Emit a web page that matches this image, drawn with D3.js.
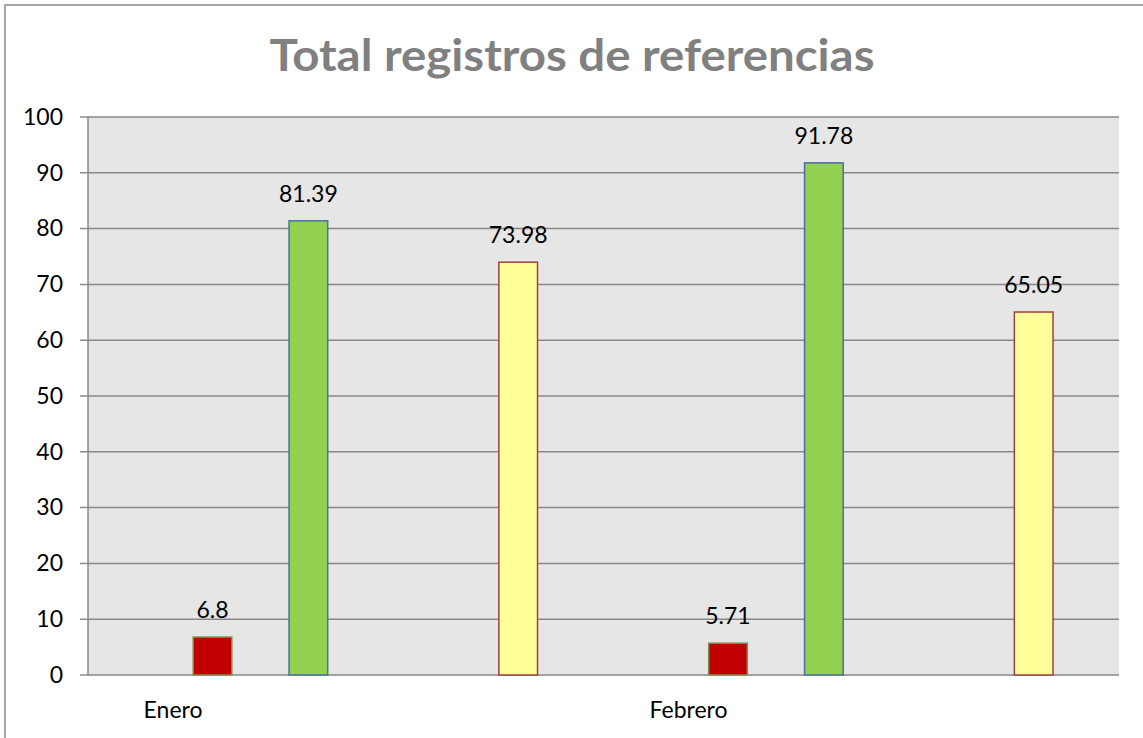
<!DOCTYPE html>
<html>
<head>
<meta charset="utf-8">
<script src="https://cdn.jsdelivr.net/npm/d3@7"></script>
<style>
  html, body { margin: 0; padding: 0; background: #fff; }
  svg { display: block; font-family: Lato, "Open Sans", sans-serif; }
</style>
</head>
<body>
<svg id="chart"></svg>
<script>
const categories = ["Enero", "Febrero"];
const seriesNames = ["rojo", "verde", "amarillo"];
const redValues = [6.8, 5.71];
const greenValues = [81.39, 91.78];
const yellowValues = [73.98, 65.05];
const yTicks = [0, 10, 20, 30, 40, 50, 60, 70, 80, 90, 100];

const width = 1143;
const height = 738;
const margin = { top: 117, right: 24, bottom: 63, left: 88 };

const svg = d3.select("#chart").attr("width", width).attr("height", height);

// outer chart frame (top and left edges visible)
svg.append("path")
  .attr("d", `M5,${height} V5 H${width}`)
  .attr("fill", "none")
  .attr("stroke", "#8c8c8c")
  .attr("stroke-width", 1.5);

// title
svg.append("text")
  .attr("x", 572)
  .attr("y", 71)
  .attr("text-anchor", "middle")
  .attr("font-size", 43)
  .attr("font-weight", "bold")
  .attr("fill", "#808080")
  .attr("textLength", 605)
  .attr("lengthAdjust", "spacingAndGlyphs")
  .text("Total registros de referencias");

const x0 = d3.scaleBand()
  .domain(categories)
  .range([margin.left, width - margin.right])
  .padding(0);

// position of each series inside a category, as a fraction of the band
const x1 = d3.scaleOrdinal()
  .domain(seriesNames)
  .range([0.204, 0.39, 0.797]);
const barFrac = 0.075;

const y = d3.scaleLinear()
  .domain([0, 100])
  .range([height - margin.bottom, margin.top]);

// plot background
svg.append("rect")
  .attr("x", margin.left)
  .attr("y", margin.top)
  .attr("width", width - margin.right - margin.left)
  .attr("height", height - margin.bottom - margin.top)
  .attr("fill", "#e6e6e6");

// gridlines
svg.append("g")
  .selectAll("line")
  .data(yTicks)
  .join("line")
  .attr("x1", margin.left - 8)
  .attr("x2", width - margin.right)
  .attr("y1", (d) => y(d))
  .attr("y2", (d) => y(d))
  .attr("stroke", "#888888")
  .attr("stroke-width", 1.5);

// y axis line
svg.append("line")
  .attr("x1", margin.left)
  .attr("x2", margin.left)
  .attr("y1", margin.top)
  .attr("y2", y(0))
  .attr("stroke", "#888888")
  .attr("stroke-width", 1.5);

// y tick labels
const yAxis = svg.append("g")
  .attr("transform", `translate(${margin.left},0)`)
  .call(d3.axisLeft(y).tickValues(yTicks).tickSize(0).tickPadding(25));
yAxis.select(".domain").remove();
yAxis.selectAll("text")
  .attr("font-family", "Lato, sans-serif")
  .attr("font-size", 23)
  .attr("fill", "#000");

const series = [
  { name: "rojo", values: redValues, fill: "#c00000", stroke: "#7f9150" },
  { name: "verde", values: greenValues, fill: "#92d050", stroke: "#4a6fa5" },
  { name: "amarillo", values: yellowValues, fill: "#ffff99", stroke: "#a0403f" }
];

const bars = [];
series.forEach((s) => {
  categories.forEach((c, i) => {
    bars.push({ cat: c, name: s.name, value: s.values[i], fill: s.fill, stroke: s.stroke });
  });
});

const bw = x0.bandwidth() * barFrac;
const barX = (d) => x0(d.cat) + x0.bandwidth() * x1(d.name);

svg.append("g")
  .selectAll("rect")
  .data(bars)
  .join("rect")
  .attr("x", barX)
  .attr("y", (d) => y(d.value))
  .attr("width", bw)
  .attr("height", (d) => y(0) - y(d.value))
  .attr("fill", (d) => d.fill)
  .attr("stroke", (d) => d.stroke)
  .attr("stroke-width", 1.5);

// value labels
svg.append("g")
  .selectAll("text")
  .data(bars)
  .join("text")
  .attr("x", (d) => barX(d) + bw / 2)
  .attr("y", (d) => y(d.value) - 19)
  .attr("text-anchor", "middle")
  .attr("font-size", 23)
  .attr("fill", "#000")
  .text((d) => d.value);

// category labels
svg.append("g")
  .selectAll("text")
  .data(categories)
  .join("text")
  .attr("x", (d) => x0(d) + x0.bandwidth() * 0.165)
  .attr("y", 718)
  .attr("text-anchor", "middle")
  .attr("font-size", 23)
  .attr("fill", "#000")
  .text((d) => d);
</script>
</body>
</html>
